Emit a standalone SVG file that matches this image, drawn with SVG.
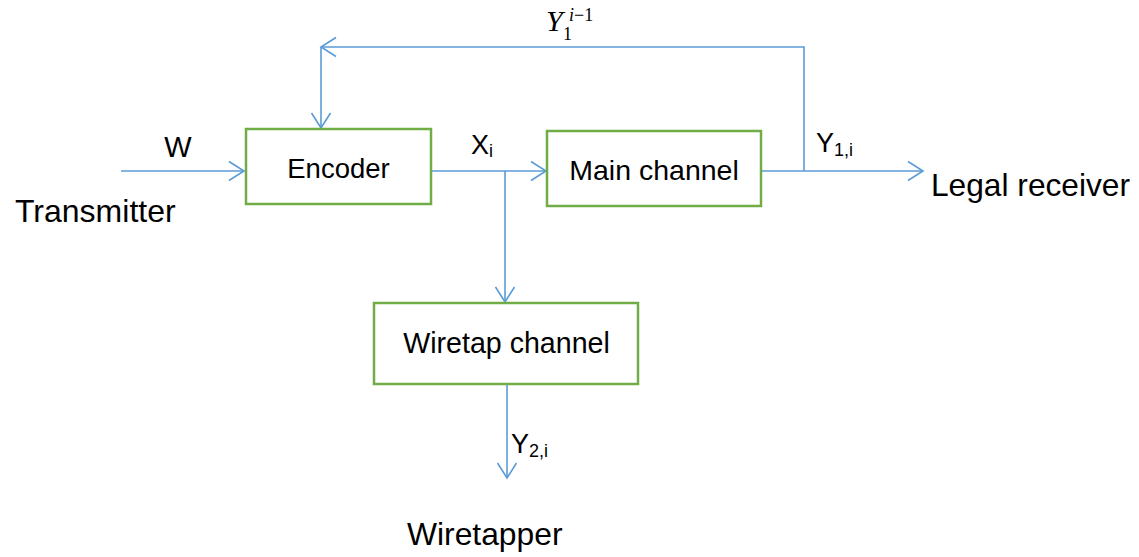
<svg xmlns="http://www.w3.org/2000/svg" width="1139" height="557" viewBox="0 0 1139 557">
<style>
.box{fill:#fff;stroke:#70AD47;stroke-width:2.5}
.ln{fill:none;stroke:#5B9BD5;stroke-width:1.6}
.t{font-family:"Liberation Sans",Arial,sans-serif;fill:#000}
.m{font-family:"Liberation Serif","Times New Roman",serif;fill:#000}
</style>
<defs>
<marker id="arr" markerUnits="userSpaceOnUse" markerWidth="20" markerHeight="24" viewBox="-17 -12 20 24" refX="0" refY="0" orient="auto">
<path d="M-15,-9.5 L0,0 L-15,9.5" fill="none" stroke="#5B9BD5" stroke-width="1.6"/>
</marker>
</defs>
<rect width="1139" height="557" fill="#fff"/>
<g id="connectors">
<line class="ln" x1="121" y1="171" x2="244" y2="171" marker-end="url(#arr)"/>
<line class="ln" x1="431" y1="171" x2="546" y2="171" marker-end="url(#arr)"/>
<line class="ln" x1="505" y1="171" x2="505" y2="302" marker-end="url(#arr)"/>
<line class="ln" x1="762" y1="171" x2="923" y2="171" marker-end="url(#arr)"/>
<polyline class="ln" points="804,171 804,47 321,47" marker-end="url(#arr)"/>
<line class="ln" x1="321" y1="47" x2="321" y2="128" marker-end="url(#arr)"/>
<line class="ln" x1="507" y1="384" x2="507" y2="478" marker-end="url(#arr)"/>
</g>
<g id="encoder">
<rect class="box" x="246" y="129" width="185" height="75"/>
<text class="t" x="338.5" y="178" font-size="27.5" text-anchor="middle">Encoder</text>
</g>
<g id="main-channel">
<rect class="box" x="547" y="131" width="214" height="75"/>
<text class="t" x="654" y="180" font-size="28.5" text-anchor="middle">Main channel</text>
</g>
<g id="wiretap-channel">
<rect class="box" x="374" y="303" width="264" height="81"/>
<text class="t" x="506.5" y="353" font-size="28.6" text-anchor="middle">Wiretap channel</text>
</g>
<g id="labels">
<text class="t" x="178" y="157" font-size="29" text-anchor="middle">W</text>
<text class="t" x="15" y="222" font-size="32">Transmitter</text>
<text class="t" x="931" y="196" font-size="31.7">Legal receiver</text>
<text class="t" x="407" y="545" font-size="31.8">Wiretapper</text>
<text class="t" x="471" y="154" font-size="27">X<tspan font-size="18" dy="3">i</tspan></text>
<text class="t" x="816" y="152" font-size="27">Y<tspan font-size="18" dy="4">1,i</tspan></text>
<text class="t" x="511" y="453" font-size="27">Y<tspan font-size="18" dy="4">2,i</tspan></text>
<text class="m" x="546" y="31" font-size="30" font-style="italic">Y</text>
<text class="m" x="563" y="40" font-size="18">1</text>
<text class="m" x="569" y="21" font-size="18"><tspan font-style="italic">i</tspan>−1</text>
</g>
</svg>
